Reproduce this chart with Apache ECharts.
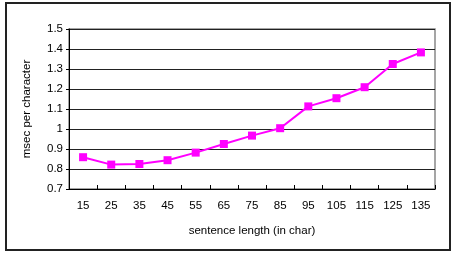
<!DOCTYPE html>
<html><head><meta charset="utf-8">
<script src="https://cdn.jsdelivr.net/npm/echarts@6/dist/echarts.min.js"></script>
<style>html,body{margin:0;padding:0;background:#fff}#c{width:454px;height:254px}</style>
</head><body><div id="c"></div>
<script>
var categories = ['15','25','35','45','55','65','75','85','95','105','115','125','135'];
var msecPerChar = [0.859,0.822,0.825,0.844,0.882,0.925,0.967,1.004,1.113,1.154,1.209,1.325,1.383];
var yMin = 0.7, yMax = 1.5, yStep = 0.1;

var chart = echarts.init(document.getElementById('c'), null, {renderer:'canvas'});
var font = 'Liberation Sans, Arial, sans-serif';
chart.setOption({
  animation:false,
  backgroundColor:'#fff',
  graphic:[{type:'rect',shape:{x:6,y:3,width:444,height:247},style:{fill:'none',stroke:'#222',lineWidth:2},z:-1}],
  grid:{left:69,right:19,top:29,bottom:65,show:true,borderColor:'#888',borderWidth:1.5},
  xAxis:{type:'category',data:categories,boundaryGap:true,
    name:'sentence length (in char)',nameLocation:'middle',nameGap:36,
    nameTextStyle:{fontFamily:font,fontSize:11.5,color:'#000'},
    axisLine:{lineStyle:{color:'#000',width:1}},
    axisTick:{show:true,inside:true,length:4,alignWithLabel:false,lineStyle:{color:'#000'}},
    axisLabel:{fontFamily:font,fontSize:11.5,color:'#000',margin:11,interval:0},
    splitLine:{show:false}},
  yAxis:{type:'value',min:yMin,max:yMax,interval:yStep,
    name:'msec per character',nameLocation:'middle',nameGap:36,nameRotate:90,
    nameTextStyle:{fontFamily:font,fontSize:11.5,color:'#000'},
    axisLine:{show:true,lineStyle:{color:'#000',width:1}},
    axisTick:{show:true,length:3,lineStyle:{color:'#000'}},
    axisLabel:{fontFamily:font,fontSize:11.5,color:'#000',margin:6,
      formatter:function(v){return String(Math.round(v*10)/10);}},
    splitLine:{show:true,lineStyle:{color:'#222',width:1}}},
  series:[{type:'line',data:msecPerChar,symbol:'rect',symbolSize:8,
    lineStyle:{color:'#ff00ff',width:2},itemStyle:{color:'#ff00ff'}}]
});
</script></body></html>
